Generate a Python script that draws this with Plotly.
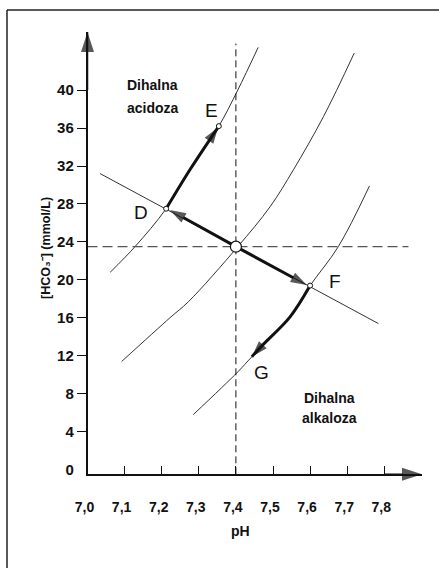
import plotly.graph_objects as go

W, H = 439, 568
FONT = "Liberation Sans, Arial, sans-serif"
INK = "#111111"

# Axis ticks
ph_ticks = [7.0, 7.1, 7.2, 7.3, 7.4, 7.5, 7.6, 7.7, 7.8]
ph_labels = ["7,0", "7,1", "7,2", "7,3", "7,4", "7,5", "7,6", "7,7", "7,8"]
hco3_ticks = [0, 4, 8, 12, 16, 20, 24, 28, 32, 36, 40]

# Axis ranges
ph_range = [7.0, 7.9016]
hco3_range = [-0.485, 46.12]

# Normal acid-base state
normal_ph = 7.40
normal_hco3 = 23.5

# Blood buffer line
buffer_ph = [7.034, 7.784]
buffer_hco3 = [31.2, 15.4]

# PCO2 isopleths (high, normal, low)
iso_high_ph = [7.061, 7.128, 7.212, 7.276, 7.354, 7.405, 7.460]
iso_high_hco3 = [20.8, 23.5, 27.5, 31.6, 36.2, 40.0, 44.5]
iso_mid_ph = [7.092, 7.222, 7.272, 7.405, 7.492, 7.555, 7.636, 7.719]
iso_mid_hco3 = [11.4, 16.0, 17.7, 23.5, 27.7, 31.6, 37.2, 43.9]
iso_low_ph = [7.285, 7.405, 7.443, 7.546, 7.600, 7.676, 7.760]
iso_low_hco3 = [5.8, 10.3, 11.9, 16.1, 19.4, 23.5, 29.9]

# Labelled states D, E, F, G
point_names = ["D", "E", "F", "G"]
point_ph = [7.212, 7.354, 7.600, 7.445]
point_hco3 = [27.5, 36.2, 19.4, 12.1]
label_ph = [7.143, 7.333, 7.666, 7.468]
label_hco3 = [27.1, 37.9, 19.8, 10.2]

# Arrow tips (where each arrowhead points)
tip_D = (7.222, 27.36)
tip_F = (7.591, 19.46)
tip_E = (7.352, 36.06)
tip_G = (7.443, 11.91)
# points just behind the curved arrowheads, on the isopleths
back_E = (7.332, 34.92)
back_G = (7.470, 13.05)

# Region names, one entry per text line
region_lines = ["Dihalna", "acidoza", "Dihalna", "alkaloza"]
region_ph = [7.1765, 7.1765, 7.6536, 7.6536]
region_hco3 = [40.5, 38.15, 7.55, 5.4]

fig = go.Figure()

thin = dict(color="#333333", width=1)
for xs, ys in [(iso_high_ph, iso_high_hco3), (iso_mid_ph, iso_mid_hco3),
               (iso_low_ph, iso_low_hco3), (buffer_ph, buffer_hco3)]:
    fig.add_trace(go.Scatter(x=xs, y=ys, mode="lines",
                             line=dict(shape="spline", smoothing=1.0, **thin),
                             hoverinfo="skip", showlegend=False))

# reference lines through the normal state
fig.add_trace(go.Scatter(x=[normal_ph, normal_ph], y=[hco3_range[0], 44.9], mode="lines",
                         line=dict(color=INK, width=1, dash="7px,4px"),
                         hoverinfo="skip", showlegend=False))
fig.add_trace(go.Scatter(x=[ph_ticks[0], 7.865], y=[normal_hco3, normal_hco3], mode="lines",
                         line=dict(color="#555555", width=1.2, dash="10px,5px"),
                         hoverinfo="skip", showlegend=False))


def arrow(xs, ys, width=3, head=17, spline=False):
    """Thick line ending in an arrowhead oriented along its last segment."""
    n = len(xs)
    fig.add_trace(go.Scatter(
        x=xs, y=ys, mode="lines+markers", cliponaxis=False,
        line=dict(color=INK, width=width, shape="spline" if spline else "linear"),
        marker=dict(symbol=["circle"] * (n - 1) + ["arrow"],
                    size=[0] * (n - 1) + [head], angleref="previous",
                    color=INK, line=dict(width=0)),
        hoverinfo="skip", showlegend=False))


# shifts away from the normal state
arrow([normal_ph, tip_D[0]], [normal_hco3, tip_D[1]])
arrow([normal_ph, tip_F[0]], [normal_hco3, tip_F[1]])
# compensation along the isopleths
arrow([point_ph[0], iso_high_ph[3], back_E[0], tip_E[0]],
      [point_hco3[0], iso_high_hco3[3], back_E[1], tip_E[1]], spline=True)
arrow([point_ph[2], iso_low_ph[3], back_G[0], tip_G[0]],
      [point_hco3[2], iso_low_hco3[3], back_G[1], tip_G[1]], spline=True)

# axis arrows
arrow([ph_ticks[0], ph_ticks[0]], [hco3_ticks[-1], hco3_range[1]], width=1.5, head=21)
arrow([ph_ticks[-1], ph_range[1]], [hco3_range[0], hco3_range[0]], width=1.5, head=21)

# state markers
fig.add_trace(go.Scatter(x=point_ph[:3], y=point_hco3[:3], mode="markers",
                         marker=dict(symbol="circle", size=5, color="white",
                                     line=dict(color=INK, width=1)),
                         hoverinfo="skip", showlegend=False))
fig.add_trace(go.Scatter(x=[normal_ph], y=[normal_hco3], mode="markers",
                         marker=dict(symbol="circle", size=11, color="white",
                                     line=dict(color=INK, width=1.2)),
                         hoverinfo="skip", showlegend=False))

annotations = []
for name, x, y in zip(point_names, label_ph, label_hco3):
    annotations.append(dict(x=x, y=y, xref="x", yref="y", text=name, showarrow=False,
                            font=dict(family=FONT, size=19, color=INK)))
for t, x, y in zip(region_lines, region_ph, region_hco3):
    annotations.append(dict(x=x, y=y, xref="x", yref="y", text=t, showarrow=False,
                            font=dict(family=FONT, size=14, color=INK, weight="bold")))

# axis titles
annotations.append(dict(x=37 / W, y=1 - 248 / H, xref="paper", yref="paper",
                        text="[HCO\u2083\u207b] (mmol/L)", textangle=-90,
                        showarrow=False,
                        font=dict(family=FONT, size=12.5, color=INK, weight="bold")))
annotations.append(dict(x=240 / W, y=1 - 541 / H, xref="paper", yref="paper",
                        text="pH", showarrow=False,
                        font=dict(family=FONT, size=14, color=INK, weight="bold")))

# frame around the figure
shapes = [
    dict(type="line", xref="paper", yref="paper", x0=7 / W, x1=1, y0=1 - 10 / H, y1=1 - 10 / H,
         line=dict(color="#222222", width=1.5)),
    dict(type="line", xref="paper", yref="paper", x0=7 / W, x1=7 / W, y0=0, y1=1 - 10 / H,
         line=dict(color="#222222", width=1.5)),
]

fig.update_layout(
    width=W, height=H,
    margin=dict(l=0, r=0, t=0, b=0),
    paper_bgcolor="white", plot_bgcolor="white",
    showlegend=False,
    annotations=annotations, shapes=shapes,
    xaxis=dict(domain=[87.5 / W, 422 / W], range=ph_range, tickvals=ph_ticks,
               ticktext=ph_labels, ticks="inside", ticklen=9, tickcolor=INK,
               tickwidth=1.2, showline=True, linecolor=INK, linewidth=1.5,
               showgrid=False, zeroline=False, ticklabelstandoff=19,
               ticklabelshift=-3, automargin=False,
               tickfont=dict(family=FONT, size=14, color=INK, weight="bold")),
    yaxis=dict(domain=[(H - 474.3) / H, (H - 32) / H], range=hco3_range,
               tickvals=hco3_ticks, ticks="outside", ticklen=9,
               tickcolor="rgba(0,0,0,0)", tickwidth=1.2,
               minor=dict(tickvals=hco3_ticks[1:], ticks="outside", ticklen=9,
                          tickcolor=INK, tickwidth=1.2, showgrid=False),
               showline=True, linecolor=INK, linewidth=1.5,
               showgrid=False, zeroline=False, automargin=False,
               tickfont=dict(family=FONT, size=15, color=INK, weight="bold")),
)

fig.write_html("out.html")
